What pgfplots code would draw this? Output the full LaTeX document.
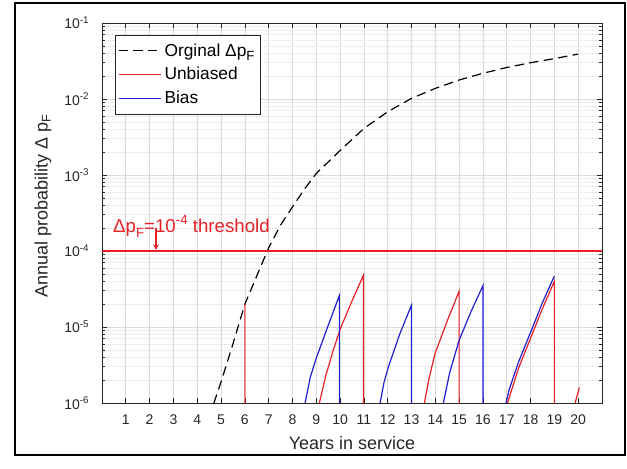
\documentclass[border=0pt]{standalone}
\usepackage{pgfplots}
\pgfplotsset{compat=1.18}
\usepackage{fontspec}
\setmainfont{Liberation Sans}
\definecolor{mred}{RGB}{232,32,38}
\definecolor{mblue}{RGB}{32,32,210}
\definecolor{axgray}{RGB}{38,38,38}
\definecolor{gridgray}{RGB}{218,218,218}
\newcommand{\msub}[1]{\raisebox{-0.45ex}{\fontsize{10}{10}\selectfont #1}}
\newcommand{\msup}[1]{\raisebox{0.85ex}{\fontsize{10}{10}\selectfont #1}}

\begin{document}
\begin{tikzpicture}
\path (0,0) rectangle (470.25pt,351pt);
\draw[line width=1.2pt] (11.25pt,9.75pt) rectangle (468.75pt,348.75pt);
\begin{axis}[
  at={(76.5pt,48.75pt)}, anchor=south west,
  scale only axis, width=375pt, height=285pt,
  xmin=0, xmax=21,
  ymode=log, ymin=1e-6, ymax=1e-1,
  xtick={1,...,20},
  xticklabels={1,2,3,4,5,6,7,8,9,10,11,12,13,14,15,16,17,18,19,20},
  ytick={1e-6,1e-5,1e-4,1e-3,1e-2,1e-1},
  yticklabels={10\textsuperscript{-6},10\textsuperscript{-5},10\textsuperscript{-4},10\textsuperscript{-3},10\textsuperscript{-2},10\textsuperscript{-1}},
  minor ytick={2e-6,3e-6,4e-6,5e-6,6e-6,7e-6,8e-6,9e-6,
               2e-5,3e-5,4e-5,5e-5,6e-5,7e-5,8e-5,9e-5,
               2e-4,3e-4,4e-4,5e-4,6e-4,7e-4,8e-4,9e-4,
               2e-3,3e-3,4e-3,5e-3,6e-3,7e-3,8e-3,9e-3,
               2e-2,3e-2,4e-2,5e-2,6e-2,7e-2,8e-2,9e-2},
  tick label style={font=\fontsize{10.5}{12}\selectfont, text=axgray},
  xticklabel style={yshift=-5pt},
  yticklabel style={xshift=-6pt},
  tick align=inside,
  major tick length=3.75pt, minor tick length=2.2pt,
  every tick/.style={axgray, line width=0.5pt},
  axis line style={axgray, line width=0.6pt},
  xmajorgrids, ymajorgrids, yminorgrids,
  major grid style={gridgray, line width=0.5pt},
  minor grid style={gridgray, line width=0.5pt, densely dotted},
  xlabel={Years in service},
  ylabel={Annual probability Δ p\textsubscript{F}},
  label style={font=\fontsize{13.5}{16}\selectfont, text=axgray},
  xlabel style={at={(axis description cs:0.5,-0.105)}, anchor=center},
  ylabel style={at={(axis description cs:-0.118,0.52)}, anchor=center},
  unbounded coords=jump,
  legend cell align=left,
  legend image code/.code={\draw[#1] (0pt,0pt) -- (32pt,0pt);},
  legend style={at={(axis description cs:0.026,0.968)}, anchor=north west,
    draw=axgray, line width=0.5pt, fill=white,
    font=\fontsize{13}{16}\selectfont, inner xsep=2pt, inner ysep=4pt,
    row sep=3pt},
]
  \addplot[black, line width=0.9pt, dash pattern=on 7pt off 4pt] coordinates {
    (4.5,6.5e-7) (4.7,1e-6) (5,1.9e-6) (5.5,6.0e-6) (6,2.0e-5) (6.5,4.7e-5)
    (7,1.1e-4) (7.5,2.2e-4) (8,3.8e-4) (8.5,6.5e-4) (9,1.05e-3) (10,2.1e-3)
    (11,4.1e-3) (12,6.8e-3) (13,1.02e-2) (14,1.38e-2) (15,1.78e-2) (16,2.18e-2)
    (17,2.6e-2) (18,3.0e-2) (19,3.4e-2) (20,3.9e-2)
  };
  \addlegendentry{Orginal Δp\msub{F}}

  \addplot[mred, line width=0.9pt] coordinates {
    (6,2.0e-5) (6,1e-7) (7,nan)
    (9.13,1e-6) (9.4,2.3e-6) (9.7,4.8e-6) (10,9.3e-6) (10.5,2.2e-5) (10.98,4.8e-5) (10.98,1e-7) (12,nan)
    (13.54,1e-6) (13.75,2.2e-6) (13.99,4.5e-6) (14.5,1.2e-5) (15.0,2.97e-5) (15.0,1e-7) (16,nan)
    (17.03,1e-6) (17.5,2.9e-6) (18.05,7.8e-6) (18.5,1.75e-5) (19.0,4.0e-5) (19.0,1e-7) (19.5,nan)
    (19.87,1e-6) (20.05,1.6e-6)
  };
  \addlegendentry{Unbiased}

  \addplot[mblue, line width=0.9pt] coordinates {
    (8.53,1e-6) (8.75,2.2e-6) (9.0,3.9e-6) (9.5,1.05e-5) (9.97,2.6e-5) (9.97,1e-7) (11,nan)
    (11.68,1e-6) (11.85,1.9e-6) (12.03,3.0e-6) (12.5,8.0e-6) (13.0,1.95e-5) (13.0,1e-7) (14,nan)
    (14.34,1e-6) (14.6,2.5e-6) (15.0,6.7e-6) (15.5,1.6e-5) (16.0,3.5e-5) (16.0,1e-7) (16.5,nan)
    (16.97,1e-6) (17.1,1.5e-6) (17.5,3.5e-6) (18.05,9.3e-6) (18.5,2.1e-5) (19.0,4.7e-5)
  };
  \addlegendentry{Bias}

  \addplot[mred, line width=0.8pt, forget plot] coordinates {(0,1e-4) (21,1e-4)};

  \node[text=mred, anchor=base west, inner sep=0pt, font=\fontsize{14}{16}\selectfont]
    at (axis cs:0.46,1.73e-4) {Δp\msub{F}=10\msup{-4} threshold};
  \draw[mred, line width=0.9pt, -stealth] (axis cs:2.27,2.0e-4) -- (axis cs:2.27,1.03e-4);
\end{axis}
\end{tikzpicture}
\end{document}
